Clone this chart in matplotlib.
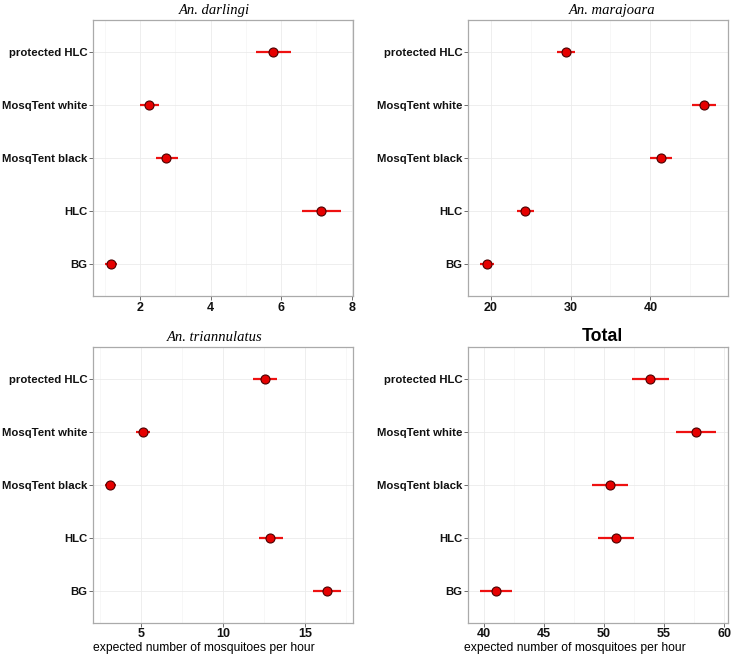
import matplotlib
matplotlib.use("Agg")
import matplotlib.pyplot as plt
from matplotlib.ticker import MultipleLocator
import numpy as np

categories = ["BG", "HLC", "MosqTent black", "MosqTent white", "protected HLC"]

# bottom-to-top order: BG, HLC, black, white, protected HLC
darlingi_mid = [1.18, 7.13, 2.75, 2.25, 5.77]
darlingi_lo = [1.00, 6.60, 2.45, 2.00, 5.30]
darlingi_hi = [1.36, 7.70, 3.08, 2.54, 6.27]

marajoara_mid = [19.5, 24.35, 41.3, 46.7, 29.4]
marajoara_lo = [18.6, 23.3, 39.9, 45.2, 28.3]
marajoara_hi = [20.4, 25.4, 42.7, 48.2, 30.6]

triann_mid = [16.29, 12.88, 3.11, 5.12, 12.52]
triann_lo = [15.44, 12.18, 2.81, 4.70, 11.83]
triann_hi = [17.17, 13.64, 3.48, 5.57, 13.25]

total_mid = [41.0, 51.0, 50.5, 57.64, 53.87]
total_lo = [39.67, 49.5, 49.0, 56.0, 52.3]
total_hi = [42.4, 52.5, 52.0, 59.3, 55.4]

panels = [
    ("An. darlingi", darlingi_mid, darlingi_lo, darlingi_hi, [2, 4, 6, 8], 1),
    ("An. marajoara", marajoara_mid, marajoara_lo, marajoara_hi, [20, 30, 40], 5),
    ("An. triannulatus", triann_mid, triann_lo, triann_hi, [5, 10, 15], 2.5),
    ("Total", total_mid, total_lo, total_hi, [40, 45, 50, 55, 60], 2.5),
]

boxes = [
    [0.127, 0.548, 0.355, 0.4215],
    [0.639, 0.548, 0.355, 0.4215],
    [0.127, 0.0493, 0.355, 0.4214],
    [0.639, 0.0493, 0.355, 0.4214],
]
title_x = [0.469, 0.555, 0.469, 0.517]
label_x = [None, None, 0.427, 0.413]

fig = plt.figure(figsize=(7.32, 6.55), dpi=100)

for i, (title, mid, lo, hi, ticks, minor) in enumerate(panels):
    ax = fig.add_axes(boxes[i])
    y = np.arange(len(categories))
    mid = np.array(mid)
    lo = np.array(lo)
    hi = np.array(hi)
    ax.hlines(y, lo, hi, color="#ee1111", linewidth=1.6, zorder=3)
    ax.plot(mid, y, "o", color="#e60000", markeredgecolor="#4a0000",
            markeredgewidth=0.8, markersize=6.5, zorder=4)
    span = hi.max() - lo.min()
    ax.set_xlim(lo.min() - 0.05 * span, hi.max() + 0.05 * span)
    ax.set_ylim(-0.6, len(categories) - 0.4)
    ax.set_yticks(y)
    ax.set_yticklabels(categories, fontweight="bold", fontsize=8.2,
                       family="Liberation Sans")
    ax.set_xticks(ticks)
    ax.set_xticklabels([str(t) for t in ticks], fontweight="bold",
                       fontsize=9, family="Liberation Sans")
    ax.xaxis.set_minor_locator(MultipleLocator(minor))
    ax.grid(True, which="major", color="#ebebeb", linewidth=0.6)
    ax.grid(True, which="minor", axis="x", color="#f4f4f4", linewidth=0.5)
    ax.set_axisbelow(True)
    for s in ax.spines.values():
        s.set_color("#aaaaaa")
        s.set_linewidth(0.9)
    ax.tick_params(which="major", length=3, color="#555555", width=0.6,
                   pad=1, labelcolor="#111111")
    ax.tick_params(which="minor", length=0)
    if title == "Total":
        ax.set_title(title, fontsize=12.8, fontweight="bold",
                     family="Liberation Sans", pad=4, x=title_x[i])
    else:
        ax.set_title(title, fontsize=10.5, style="italic",
                     family="Liberation Serif", pad=4, x=title_x[i])
    if label_x[i] is not None:
        ax.set_xlabel("expected number of mosquitoes per hour", fontsize=8.7,
                      family="Liberation Sans")
        ax.xaxis.set_label_coords(label_x[i], -0.07)

fig.savefig("out.png", dpi=100)
